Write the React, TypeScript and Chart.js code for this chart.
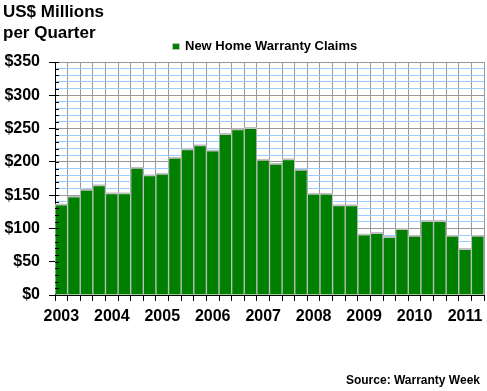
import React, { useEffect, useRef } from 'react';
import { Chart, registerables } from 'chart.js';

Chart.register(...registerables);

// ---- Data ----
const years = ['2003', '2004', '2005', '2006', '2007', '2008', '2009', '2010', '2011'];
const quarters = ['Q1', 'Q2', 'Q3', 'Q4'];
const quarterCount = 34; // 2003 Q1 .. 2011 Q2
const categories: string[] = years.flatMap((y) => quarters.map((q) => `${y} ${q}`)).slice(0, quarterCount);
const claims = [
  137, 149, 159, 166, 154, 154, 192, 181, 183, 207,
  220, 226, 218, 243, 250, 252, 204, 198, 205, 189,
  153, 153, 136, 136, 92, 94, 88, 100, 90, 112,
  112, 90, 70, 90,
];
const seriesLabel = 'New Home Warranty Claims';
const titleLines = ['US$ Millions', 'per Quarter'];
const sourceText = 'Source: Warranty Week';
const yMin = 0;
const yMax = 350;
const yMinorStep = 10;
const yMajorStep = 50;

const FONT = '"Liberation Sans", Arial, Helvetica, sans-serif';
const GREEN = '#008000';
const BAR_EDGE = '#c0c0c0';
const MAJOR_GRID = '#999999';
const MINOR_GRID = '#99ccff';

const decorPlugin = {
  id: 'decor',
  afterDraw(chart: any) {
    const ctx = chart.ctx;
    const area = chart.chartArea;
    ctx.save();
    // minor inward ticks on the y axis
    const ys = chart.scales.y;
    ctx.strokeStyle = '#000';
    ctx.lineWidth = 1;
    ys.ticks.forEach((t: any) => {
      const py = Math.round(ys.getPixelForValue(t.value)) + 0.5;
      ctx.beginPath();
      ctx.moveTo(area.left, py);
      ctx.lineTo(area.left + 4, py);
      ctx.stroke();
    });
    // title
    ctx.fillStyle = '#000';
    ctx.textAlign = 'left';
    ctx.textBaseline = 'alphabetic';
    ctx.font = `bold 17px ${FONT}`;
    ctx.fillText(titleLines[0], 3, 17);
    ctx.fillText(titleLines[1], 3, 38);
    // legend
    ctx.font = `bold 13px ${FONT}`;
    const lx = Math.round(area.left + 117);
    ctx.fillStyle = GREEN;
    ctx.fillRect(lx, 43, 8, 7);
    ctx.strokeStyle = BAR_EDGE;
    ctx.strokeRect(lx + 0.5, 43.5, 7, 6);
    ctx.fillStyle = '#000';
    ctx.fillText(seriesLabel, lx + 13, 50);
    // source
    ctx.font = `bold 12px ${FONT}`;
    ctx.textAlign = 'right';
    ctx.fillText(sourceText, 480, 384);
    ctx.restore();
  },
};

export default function App() {
  const canvasRef = useRef<HTMLCanvasElement | null>(null);

  useEffect(() => {
    if (!canvasRef.current) return;
    const chart = new Chart(canvasRef.current, {
      type: 'bar',
      data: {
        labels: categories,
        datasets: [
          {
            label: seriesLabel,
            data: claims,
            backgroundColor: GREEN,
            borderColor: BAR_EDGE,
            borderWidth: { top: 2, left: 1, right: 1, bottom: 0 },
            borderSkipped: false,
            barPercentage: 1,
            categoryPercentage: 1,
          },
        ],
      },
      options: {
        responsive: false,
        animation: false,
        layout: { padding: { left: 0, right: 3, top: 62, bottom: 0 } },
        plugins: {
          legend: { display: false },
          title: { display: false },
          tooltip: { enabled: false },
        },
        scales: {
          x: {
            offset: true,
            grid: {
              offset: true,
              color: MAJOR_GRID,
              tickColor: '#000',
              tickLength: 6,
              lineWidth: 1,
            },
            border: { color: '#000', width: 1 },
            ticks: {
              autoSkip: false,
              maxRotation: 0,
              minRotation: 0,
              padding: 6,
              color: '#000',
              font: { family: FONT, size: 16, weight: 'bold' },
              callback: (_v: any, i: number) => {
                const c = categories[i];
                return c.endsWith('Q1') ? c.slice(0, 4) : '';
              },
            },
            afterFit: (scale: any) => {
              scale.height = 96;
            },
          },
          y: {
            min: yMin,
            max: yMax,
            grid: {
              color: (c: any) => (c.tick && c.tick.value % yMajorStep === 0 ? MAJOR_GRID : MINOR_GRID),
              tickColor: (c: any) => (c.tick && c.tick.value % yMajorStep === 0 ? '#000' : 'rgba(0,0,0,0)'),
              tickLength: 6,
              lineWidth: 1,
            },
            border: { color: '#000', width: 1 },
            ticks: {
              stepSize: yMinorStep,
              autoSkip: false,
              padding: 9,
              color: '#000',
              font: { family: FONT, size: 16, weight: 'bold' },
              callback: (v: any) => (Number(v) % yMajorStep === 0 ? `$${v}` : ''),
            },
            afterFit: (scale: any) => {
              scale.width = 55;
            },
          },
        },
      },
      plugins: [decorPlugin],
    });
    return () => chart.destroy();
  }, []);

  return (
    <div style={{ position: 'absolute', left: 0, top: 0, width: 487, height: 391, background: '#fff' }}>
      <canvas ref={canvasRef} width={487} height={391} />
    </div>
  );
}
